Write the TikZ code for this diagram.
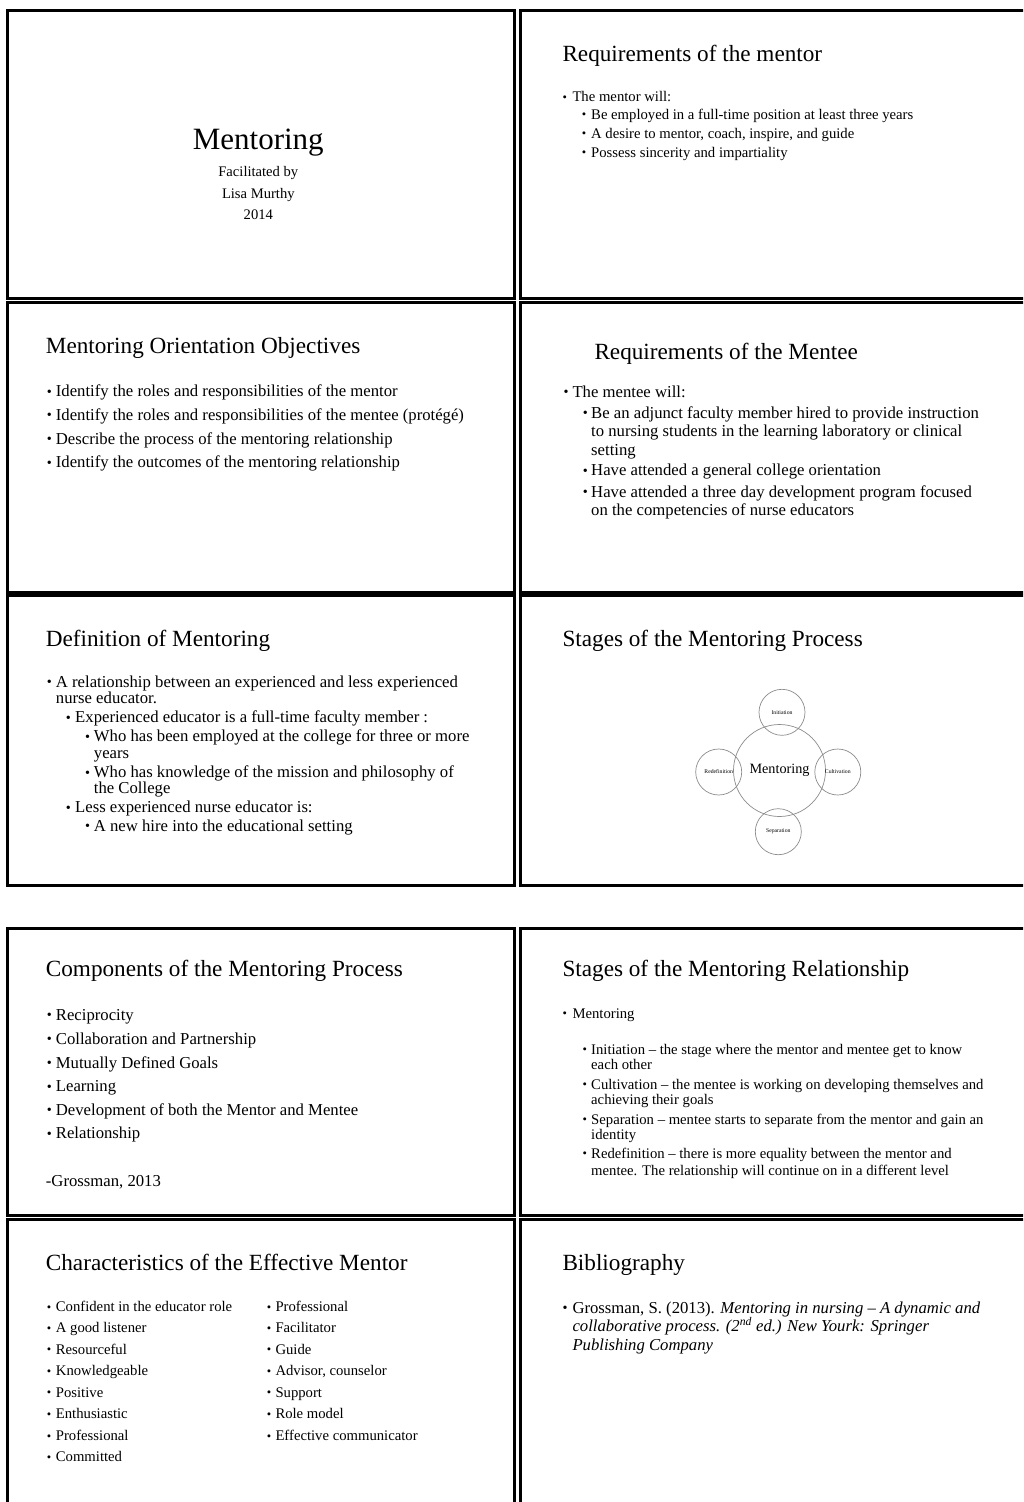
\documentclass[tikz,border=0pt]{standalone}
\usepackage{fontspec}
\usepackage{graphicx}
\setmainfont{Liberation Serif}
\tikzset{
  frame/.style={draw=black, line width=3pt},
  ttl/.style={anchor=base west, inner sep=0pt, font=\fontsize{23.2}{27}\selectfont},
  bigttl/.style={anchor=base, inner sep=0pt, font=\fontsize{31}{36}\selectfont},
  sub/.style={anchor=base, inner sep=0pt, font=\fontsize{14.6}{17}\selectfont},
  tA/.style={anchor=base west, inner sep=0pt, font=\fontsize{16.7}{19}\selectfont},
  tB/.style={anchor=base west, inner sep=0pt, font=\fontsize{14.7}{17}\selectfont},
  ring/.style={circle, draw=black!45, line width=0.7pt, inner sep=0pt},
  tiny/.style={font=\fontsize{5.7}{6}\selectfont},
}
\newcommand{\mkitem}[6]{%
  \node[#5] (#1b) at (#2,#4) {\raisebox{0.04em}{\scalebox{0.85}{\textbullet}}};
  \node[#5] (#1) at (#3,#4) {#6};}
\newcommand{\mkline}[5]{%
  \node[#4] (#1) at (#2,#3) {#5};}
\begin{document}
\begin{tikzpicture}[x=1pt,y=-1pt]
\useasboundingbox (0,0) rectangle (1023,1502);
\clip (0,0) rectangle (1023,1502);
\fill[white] (0,0) rectangle (1023,1502);
% frames
\draw[frame] (7.5,10.5) rectangle (514.5,298.5);
\draw[frame] (520.5,10.5) rectangle (1040,298.5);
\draw[frame] (7.5,302.5) rectangle (514.5,592);
\draw[frame] (520.5,302.5) rectangle (1040,592);
\draw[frame] (7.5,595.5) rectangle (514.5,885.5);
\draw[frame] (520.5,595.5) rectangle (1040,885.5);
\draw[frame] (7.5,928) rectangle (514.5,1215);
\draw[frame] (520.5,928) rectangle (1040,1215);
\draw[frame] (7.5,1219.5) rectangle (514.5,1520);
\draw[frame] (520.5,1219.5) rectangle (1040,1520);

% slide 1
\node[bigttl] (s1t) at (258.3,149) {Mentoring};
\node[sub] (s1a) at (258.3,176.7) {Facilitated by};
\node[sub] (s1b) at (258.3,198.3) {Lisa Murthy};
\node[sub] (s1c) at (258.3,219) {2014};

% slide 2
\node[ttl] (s2t) at (562.3,61) {Requirements of the mentor};
\mkitem{s2a}{562.3}{572.3}{101.7}{tB}{The mentor will:}
\mkitem{s2b}{581.7}{591}{119.3}{tB}{Be employed in a full-time position at least three years}
\mkitem{s2c}{581.7}{591}{138.3}{tB}{A desire to mentor, coach, inspire, and guide}
\mkitem{s2d}{581.7}{591}{157.3}{tB}{Possess sincerity and impartiality}

% slide 3
\node[ttl] (s3t) at (45.7,353.3) {Mentoring Orientation Objectives};
\mkitem{s3a}{46.7}{55.7}{396.7}{tA}{Identify the roles and responsibilities of the mentor}
\mkitem{s3b}{46.7}{55.7}{420.4}{tA}{Identify the roles and responsibilities of the mentee (protégé)}
\mkitem{s3c}{46.7}{55.7}{444.1}{tA}{Describe the process of the mentoring relationship}
\mkitem{s3d}{46.7}{55.7}{467.8}{tA}{Identify the outcomes of the mentoring relationship}

% slide 4
\node[ttl] (s4t) at (594.3,359) {Requirements of the Mentee};
\mkitem{s4a}{563.3}{572.3}{397.3}{tA}{The mentee will:}
\mkitem{s4b}{582.7}{591}{418.3}{tA}{Be an adjunct faculty member hired to provide instruction}
\mkline{s4b2}{591}{436}{tA}{to nursing students in the learning laboratory or clinical}
\mkline{s4b3}{591}{455}{tA}{setting}
\mkitem{s4c}{582.7}{591}{475.7}{tA}{Have attended a general college orientation}
\mkitem{s4d}{582.7}{591}{497.3}{tA}{Have attended a three day development program focused}
\mkline{s4d2}{591}{515}{tA}{on the competencies of nurse educators}

% slide 5
\node[ttl] (s5t) at (45.7,646.7) {Definition of Mentoring};
\mkitem{s5a}{46.7}{55.7}{687.3}{tA}{A relationship between an experienced and less experienced}
\mkline{s5a2}{55.7}{703.3}{tA}{nurse educator.}
\mkitem{s5b}{65.7}{75}{722.7}{tA}{Experienced educator is a full-time faculty member :}
\mkitem{s5c}{85}{93.7}{741.7}{tA}{Who has been employed at the college for three or more}
\mkline{s5c2}{93.7}{758.3}{tA}{years}
\mkitem{s5d}{85}{93.7}{777.7}{tA}{Who has knowledge of the mission and philosophy of}
\mkline{s5d2}{93.7}{793.3}{tA}{the College}
\mkitem{s5e}{65.7}{75}{812.7}{tA}{Less experienced nurse educator is:}
\mkitem{s5f}{85}{93.7}{831}{tA}{A new hire into the educational setting}

% slide 6
\node[ttl] (s6t) at (562.3,646.7) {Stages of the Mentoring Process};
\node[ring, minimum size=92pt, font=\fontsize{14.2}{16}\selectfont] (mc) at (779.5,770.5) {Mentoring};
\node[ring, minimum size=46pt, tiny] (ini) at (782,712.3) {Initiation};
\node[ring, minimum size=46pt, tiny] (cul) at (837.8,772) {Cultivation};
\node[ring, minimum size=46pt, tiny] (red) at (718.7,772) {Redefinition};
\node[ring, minimum size=46pt, tiny] (sep) at (778.3,831.7) {Separation};

% slide 7
\node[ttl] (s7t) at (45.7,976) {Components of the Mentoring Process};
\mkitem{s7a}{46.7}{55.7}{1020}{tA}{Reciprocity}
\mkitem{s7b}{46.7}{55.7}{1044}{tA}{Collaboration and Partnership}
\mkitem{s7c}{46.7}{55.7}{1068}{tA}{Mutually Defined Goals}
\mkitem{s7d}{46.7}{55.7}{1091.7}{tA}{Learning}
\mkitem{s7e}{46.7}{55.7}{1115}{tA}{Development of both the Mentor and Mentee}
\mkitem{s7f}{46.7}{55.7}{1138.7}{tA}{Relationship}
\mkline{s7g}{45.7}{1186.7}{tA}{-Grossman, 2013}

% slide 8
\node[ttl] (s8t) at (562.3,976) {Stages of the Mentoring Relationship};
\mkitem{s8a}{562.3}{572.3}{1018.3}{tB}{Mentoring}
\mkitem{s8b}{582.3}{591}{1054.3}{tB}{Initiation -- the stage where the mentor and mentee get to know}
\mkline{s8b2}{591}{1069.3}{tB}{each other}
\mkitem{s8c}{582.3}{591}{1089}{tB}{Cultivation -- the mentee is working on developing themselves and}
\mkline{s8c2}{591}{1104}{tB}{achieving their goals}
\mkitem{s8d}{582.3}{591}{1124}{tB}{Separation -- mentee starts to separate from the mentor and gain an}
\mkline{s8d2}{591}{1139.3}{tB}{identity}
\mkitem{s8e}{582.3}{591}{1158.3}{tB}{Redefinition -- there is more equality between the mentor and}
\mkline{s8e2}{591}{1175}{tB}{mentee. The relationship will continue on in a different level}

% slide 9
\node[ttl] (s9t) at (45.7,1270.7) {Characteristics of the Effective Mentor};
\mkitem{s9a}{46.7}{55.7}{1311.7}{tB}{Confident in the educator role}
\mkitem{s9b}{46.7}{55.7}{1332.7}{tB}{A good listener}
\mkitem{s9c}{46.7}{55.7}{1354.3}{tB}{Resourceful}
\mkitem{s9d}{46.7}{55.7}{1375.7}{tB}{Knowledgeable}
\mkitem{s9e}{46.7}{55.7}{1397.3}{tB}{Positive}
\mkitem{s9f}{46.7}{55.7}{1418.7}{tB}{Enthusiastic}
\mkitem{s9g}{46.7}{55.7}{1440.7}{tB}{Professional}
\mkitem{s9h}{46.7}{55.7}{1461.7}{tB}{Committed}
\mkitem{s9i}{266.7}{275.3}{1311.7}{tB}{Professional}
\mkitem{s9j}{266.7}{275.3}{1332.7}{tB}{Facilitator}
\mkitem{s9k}{266.7}{275.3}{1354.3}{tB}{Guide}
\mkitem{s9l}{266.7}{275.3}{1375.7}{tB}{Advisor, counselor}
\mkitem{s9m}{266.7}{275.3}{1397.3}{tB}{Support}
\mkitem{s9n}{266.7}{275.3}{1418.7}{tB}{Role model}
\mkitem{s9o}{266.7}{275.3}{1440.7}{tB}{Effective communicator}

% slide 10
\node[ttl] (s10t) at (562.3,1270.7) {Bibliography};
\mkitem{s10a}{562.3}{572.3}{1313.3}{tA}{Grossman, S. (2013). \textit{Mentoring in nursing -- A dynamic and}}
\mkline{s10a2}{572.3}{1331.7}{tA}{\textit{collaborative process. (2\textsuperscript{nd} ed.) New Yourk: Springer}}
\mkline{s10a3}{572.3}{1350.7}{tA}{\textit{Publishing Company}}
\end{tikzpicture}
\end{document}
